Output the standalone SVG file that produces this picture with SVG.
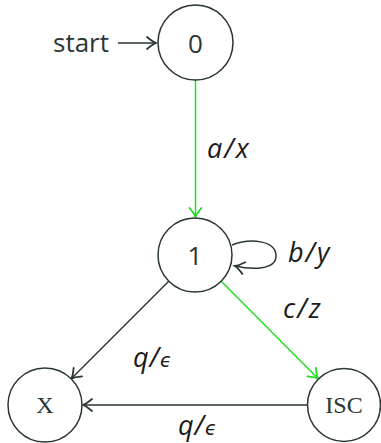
<svg xmlns="http://www.w3.org/2000/svg" width="381" height="443" viewBox="0 0 381 443">
<style>
.node circle{fill:#fff;stroke:#2a3636;stroke-width:1.5}
.sans{font-family:"Open Sans","DejaVu Sans",sans-serif;font-size:26px;fill:#2a3636}
.serif{font-family:"Liberation Serif","DejaVu Serif",serif;font-size:24px;fill:#2a3636}
.lbl{font-family:"Open Sans","DejaVu Sans",sans-serif;font-style:italic;font-size:27px;fill:#1a1a1a}
.eps{font-family:"DejaVu Sans",sans-serif;font-style:oblique;font-size:19px}
.e{fill:none;stroke:#2a3636;stroke-width:1.5}
.g{fill:none;stroke:#22dd22;stroke-width:1.5}
</style>
<defs>
<marker id="ad" markerUnits="userSpaceOnUse" markerWidth="16" markerHeight="16" viewBox="-12 -8 14 16" refX="0" refY="0" orient="auto">
<path d="M-9,-6 Q-3,-1 0,0 Q-3,1 -9,6" fill="none" stroke="#2a3636" stroke-width="1.8" stroke-linecap="round"/>
</marker>
<marker id="ag" markerUnits="userSpaceOnUse" markerWidth="16" markerHeight="16" viewBox="-12 -8 14 16" refX="0" refY="0" orient="auto">
<path d="M-9,-6 Q-3,-1 0,0 Q-3,1 -9,6" fill="none" stroke="#22dd22" stroke-width="1.8" stroke-linecap="round"/>
</marker>
</defs>
<g id="connectors">
<line class="e" x1="118" y1="43" x2="156" y2="43" marker-end="url(#ad)"/>
<line class="g" x1="195.5" y1="80" x2="195.5" y2="217" marker-end="url(#ag)"/>
<path class="e" d="M232,245 C250,238 276,240 276,256 C276,270 252,270 235,266" marker-end="url(#ad)"/>
<line class="g" x1="221" y1="281" x2="318" y2="378.5" marker-end="url(#ag)"/>
<line class="e" x1="169" y1="281" x2="71.5" y2="378.5" marker-end="url(#ad)"/>
<line class="e" x1="307.5" y1="405" x2="83" y2="405" marker-end="url(#ad)"/>
</g>
<g id="labels">
<text class="sans" x="53" y="52">start</text>
<text class="lbl" x="207" y="158">a<tspan dx="2">/</tspan><tspan dx="2">x</tspan></text>
<text class="lbl" x="288" y="262">b<tspan dx="2">/</tspan><tspan dx="2">y</tspan></text>
<text class="lbl" x="283" y="318">c<tspan dx="2">/</tspan><tspan dx="2">z</tspan></text>
<text class="lbl" x="133" y="367">q<tspan dx="1">/</tspan><tspan class="eps" dx="1">ϵ</tspan></text>
<text class="lbl" x="178" y="435">q<tspan dx="1">/</tspan><tspan class="eps" dx="1">ϵ</tspan></text>
</g>
<g id="n0" class="node"><circle cx="195.5" cy="42.5" r="37.5"/><text class="sans" x="195.5" y="52.5" text-anchor="middle">0</text></g>
<g id="n1" class="node"><circle cx="195" cy="255" r="37"/><text class="sans" x="195" y="265" text-anchor="middle">1</text></g>
<g id="nX" class="node"><circle cx="45" cy="405" r="37"/><text class="serif" x="45" y="413" text-anchor="middle">X</text></g>
<g id="nISC" class="node"><circle cx="344" cy="405" r="36.5"/><text class="serif" x="344" y="413" text-anchor="middle">ISC</text></g>
</svg>
